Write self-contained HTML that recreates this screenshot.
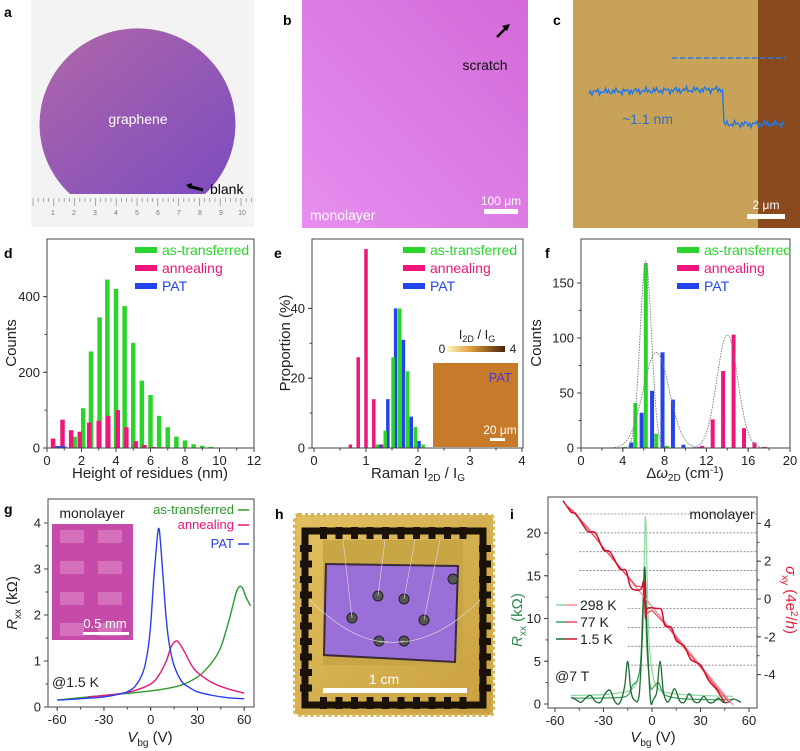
<!DOCTYPE html>
<html><head><meta charset="utf-8">
<style>
html,body{margin:0;padding:0;background:#fff;}
svg{display:block;font-family:"Liberation Sans",Arial,sans-serif;}
</style></head>
<body>
<svg id="fig" width="800" height="751" viewBox="0 0 800 751" xmlns="http://www.w3.org/2000/svg">
<defs>
<linearGradient id="waferG" x1="0" y1="0" x2="1" y2="1"><stop offset="0" stop-color="#b067a8"/><stop offset="1" stop-color="#7c4cc0"/></linearGradient>
<linearGradient id="bG" x1="0" y1="1" x2="1" y2="0"><stop offset="0" stop-color="#e68ff0"/><stop offset="1" stop-color="#d36ad8"/></linearGradient>
<linearGradient id="cbar" x1="0" x2="1"><stop offset="0" stop-color="#fff6c0"/><stop offset="0.4" stop-color="#e0a040"/><stop offset="1" stop-color="#4a2208"/></linearGradient>
<linearGradient id="goldG" x1="0" y1="0" x2="1" y2="1"><stop offset="0" stop-color="#e2c060"/><stop offset="1" stop-color="#c9a040"/></linearGradient>
</defs>

<!-- panel a -->
<g>
<rect x="31" y="0" width="223" height="227" fill="#f3f3f3"/>
<path d="M70 194 A98 96 0 1 1 205 194 Z" fill="url(#waferG)"/>
<g stroke="#888" stroke-width="0.7" id="ruler"></g>
<text x="138" y="124" fill="#fff" font-size="14" text-anchor="middle">graphene</text>
<path d="M188 186 L203 190" stroke="#000" stroke-width="3"/>
<path d="M186 185 l6 -2 l-1 6 z" fill="#000"/>
<text x="210" y="194" font-size="14">blank</text>
</g>
<text x="4" y="17" font-size="14" font-weight="bold">a</text>

<!-- panel b -->
<g>
<rect x="302" y="0" width="226" height="228" fill="url(#bG)"/>
<path d="M497 37 L507 27" stroke="#000" stroke-width="2.5"/>
<path d="M510 24 l-8 2 l5 5 z" fill="#000"/>
<text x="485" y="70" font-size="14" fill="#111" text-anchor="middle">scratch</text>
<text x="310" y="220" font-size="14" fill="#fff">monolayer</text>
<text x="501" y="205" font-size="12" fill="#fff" text-anchor="middle">100 μm</text>
<rect x="484" y="209" width="34" height="5" fill="#fff"/>
</g>
<text x="283" y="25" font-size="14" font-weight="bold">b</text>

<!-- panel c -->
<g>
<rect x="573" y="0" width="227" height="228" fill="#c9a259"/>
<rect x="758" y="0" width="42" height="228" fill="#8b4a1d"/>
<line x1="672" y1="58" x2="786" y2="58" stroke="#2a7ae0" stroke-width="1.5" stroke-dasharray="5,3"/>
<polyline id="profile" fill="none" stroke="#1f78e6" stroke-width="1.4"/>
<text x="622" y="124" font-size="14" fill="#2a6fd0">~1.1 nm</text>
<text x="766" y="209" font-size="12" fill="#fff" text-anchor="middle">2 μm</text>
<rect x="747" y="214" width="38" height="5" fill="#fff"/>
</g>
<text x="553" y="25" font-size="14" font-weight="bold">c</text>

<text x="4" y="258" font-size="14" font-weight="bold">d</text>
<text x="274" y="258" font-size="14" font-weight="bold">e</text>
<text x="545" y="258" font-size="14" font-weight="bold">f</text>
<text x="4" y="514" font-size="14" font-weight="bold">g</text>
<text x="275" y="519" font-size="14" font-weight="bold">h</text>
<text x="510" y="519" font-size="14" font-weight="bold">i</text>

<!-- panel h photo -->
<g>
<rect x="295" y="515" width="198" height="200" rx="4" fill="url(#goldG)" stroke="#d8b450" stroke-width="4" stroke-dasharray="3,3"/>
<path d="M305 531 L483 531 L483 705 L305 705 Z" fill="none" stroke="#1a1208" stroke-width="7"/>
<g id="pads"></g>
<rect x="323" y="540" width="140" height="125" fill="#c8a545"/>
<path d="M326 564 L458 566 L455 662 L324 655 Z" fill="#9a70d8" stroke="#3a2a3a" stroke-width="2"/>
<g fill="#555" stroke="#222">
<circle cx="378" cy="596" r="5"/><circle cx="404" cy="599" r="5"/><circle cx="424" cy="620" r="5"/><circle cx="352" cy="618" r="5"/><circle cx="379" cy="641" r="5"/><circle cx="404" cy="641" r="5"/><circle cx="453" cy="579" r="5"/>
</g>
<g stroke="#ddd" stroke-width="0.6" fill="none">
<path d="M378 596 L385 540"/><path d="M404 599 L415 540"/><path d="M424 620 L440 540"/><path d="M352 618 L343 540"/><path d="M310 600 Q360 650 404 641"/><path d="M480 600 Q430 650 379 641"/>
</g>
<rect x="323" y="688" width="144" height="5" fill="#fff"/>
<text x="384" y="684" font-size="14" fill="#fff" text-anchor="middle">1 cm</text>
</g>

<g id="charts"></g>
</svg>

<script>
// ---------- data ----------
// panel d: height of residues histogram
const dGreenX = [1.6,2.1,2.55,3.05,3.5,4.0,4.5,5.0,5.5,6.0,6.5,7.0,7.5,8.0,8.5,9.0,9.5];
const dGreenV = [30,105,255,345,445,420,375,278,178,140,85,55,30,20,10,6,3];
const dPinkX = [0.35,0.9,1.4,1.9,2.45,3.0,3.55,4.1,4.6,5.15,5.65,6.2,6.7];
const dPinkV = [25,75,47,43,67,72,85,100,55,18,8,3,2];
const dBlueX = [0.6,0.8,1.0];
const dBlueV = [5,5,4];
const dXTicks = [0,2,4,6,8,10,12];
const dYTicks = [0,200,400];
// panel e: Raman ratio
const ePinkX = [0.7,0.85,1.0,1.15,1.3];
const ePinkV = [1,26,57,14,1];
const eBlueX = [1.27,1.42,1.57,1.72,1.87,2.02];
const eBlueV = [1,14,40,31,9,2];
const eGreenX = [1.22,1.37,1.52,1.65,1.8,1.95,2.1];
const eGreenV = [1,5,26,40,22,6,1];
const eXTicks = [0,1,2,3,4];
const eYTicks = [0,20,40];
// panel f: 2D width
const fGreenX = [4.1,5.2,6.2,7.2,8.2];
const fGreenV = [1,41,168,13,2];
const fBlueX = [4.8,5.8,6.8,7.8,8.8,9.8,11.4];
const fBlueV = [5,32,52,87,44,3,1];
const fPinkX = [11.6,12.6,13.6,14.6,15.6,16.6,17.6];
const fPinkV = [2,26,70,103,18,5,1];
const fFitCenter = [6.2,7.2,14.0];
const fFitAmp = [170,87,103];
const fFitSigma = [0.55,1.25,1.0];
const fXTicks = [0,4,8,12,16,20];
const fYTicks = [0,50,100,150];
// panel g: Rxx vs Vbg
const gBlueX = [-60,-45,-30,-20,-15,-10,-5,-2,0,2,4,5,6,8,10,12,15,20,25,30,40,50,60];
const gBlueV = [0.15,0.18,0.22,0.28,0.33,0.45,0.75,1.2,1.8,2.8,3.6,3.88,3.7,2.8,1.9,1.35,0.9,0.55,0.42,0.33,0.25,0.2,0.18];
const gPinkX = [-40,-30,-20,-10,0,5,10,13,16,18,22,26,30,40,50,60];
const gPinkV = [0.22,0.25,0.29,0.36,0.5,0.68,1.0,1.3,1.43,1.4,1.18,0.92,0.75,0.52,0.39,0.3];
const gGreenX = [-60,-40,-20,0,10,20,30,35,40,45,50,53,55,57,59,61,64];
const gGreenV = [0.15,0.22,0.28,0.35,0.4,0.48,0.65,0.8,1.0,1.3,1.85,2.25,2.5,2.62,2.58,2.4,2.2];
const gXTicks = [-60,-30,0,30,60];
const gYTicks = [0,1,2,3,4];
// panel i: quantum Hall
const iR298X = [-50,-30,-20,-12,-8,-6,-5,-4,-3,-2,0,3,10,30,50];
const iR298V = [1.0,1.1,1.3,1.8,3.5,8,15,22,15,8,4,2,1.3,1.0,0.9];
const iR77X = [-50,-30,-16,-12,-9,-7,-6,-5,-4.5,-4,-3,-1,1,4,7,12,20,35,50];
const iR77V = [0.7,0.7,0.9,2.2,2.8,5,10,14,16,12,6,2,2,2.5,1.2,0.8,0.6,0.5,0.5];
const iR15X = [-50,-47,-44,-41,-38,-35,-32,-29,-26,-23,-20,-17,-15,-13,-11,-8,-6,-4.5,-3,-1,1,3,5,7,9,11,14,17,20,23,26,29,32,35,38,41,44,47,50,53,55];
const iR15V = [0.8,0.5,0.2,0.7,1.0,0.3,0.2,1.2,1.6,0.3,0.1,2.0,5.0,1.5,0.5,1.0,8,16,8,0.5,0.6,1.5,5.0,1.5,0.3,0.5,1.8,0.4,0.2,1.2,0.3,0.2,0.9,0.2,0.2,0.7,0.2,0.2,0.6,0.4,0.2];
const iS298X = [-50,50];
const iS298V = [4.8,-5.6];
const iS77X = [-52,-40,-30,-20,-10,-5,-4,0,10,20,30,40,48];
const iS77V = [4.9,3.8,2.7,1.7,0.7,0.6,-0.8,-0.6,-1.5,-2.6,-3.6,-4.7,-5.5];
const iS15X = [-55,-50,-47,-40,-35,-30,-26,-20,-16,-13,-7,-5,-4,-3,3,6,8,12,15,20,24,30,35,40,45];
const iS15V = [5.2,4.6,4.5,3.6,3.5,2.6,2.5,1.6,1.5,0.6,0.5,0.9,-1.0,-0.5,-0.5,-0.6,-1.4,-1.5,-2.2,-2.5,-3.2,-3.5,-4.3,-4.8,-5.5];
const iPlateaus = [4.5,3.5,2.5,1.5,0.5,-0.5,-1.5,-2.5,-3.5];
const iXTicks = [-60,-30,0,30,60];
const iLTicks = [0,5,10,15,20];
const iRTicks = [-4,-2,0,2,4];

// ---------- helpers ----------
const NS = 'http://www.w3.org/2000/svg';
const root = document.getElementById('charts');
function el(tag, parent, name, inter) {
  const e = document.createElementNS(NS, tag);
  
  
  (parent || root).appendChild(e);
  return e;
}
function set(e, o) { for (const k in o) e.setAttribute(k, o[k]); return e; }
function txt(parent, name, x, y, s, size, anchor, fill) {
  const t = el('text', parent, name, false);
  set(t, {x: x, y: y, 'font-size': size || 13, 'text-anchor': anchor || 'middle', fill: fill || '#222'});
  t.textContent = s;
  return t;
}
function frame(g, name, x0, y0, x1, y1) {
  const r = el('rect', g, name, false);
  set(r, {x: x0, y: y0, width: x1 - x0, height: y1 - y0, fill: 'none', stroke: '#444', 'stroke-width': 1});
}
function xTicks(g, ticks, X, yb, minorStep, x0, x1, color) {
  ticks.forEach(v => {
    const l = el('line', g, 'x-tick', false);
    set(l, {x1: X(v), x2: X(v), y1: yb, y2: yb + 4, stroke: '#444'});
    txt(g, 'x-tick-label', X(v), yb + 17, String(v), 13);
  });
  if (minorStep) for (let v = ticks[0]; v <= ticks[ticks.length - 1] + 1e-9; v += minorStep) {
    const l = el('line', g, 'x-minor-tick', false);
    set(l, {x1: X(v), x2: X(v), y1: yb, y2: yb + 2.5, stroke: '#444'});
  }
}
function yTicks(g, ticks, Y, xl, minorStep, side, color) {
  const d = side === 'right' ? 1 : -1;
  ticks.forEach(v => {
    const l = el('line', g, 'y-tick', false);
    set(l, {x1: xl, x2: xl + 4 * d, y1: Y(v), y2: Y(v), stroke: '#444'});
    txt(g, 'y-tick-label', xl + 7 * d, Y(v) + 4.5, String(v), 13, side === 'right' ? 'start' : 'end');
  });
  if (minorStep) for (let v = ticks[0]; v <= ticks[ticks.length - 1] + 1e-9; v += minorStep) {
    const l = el('line', g, 'y-minor-tick', false);
    set(l, {x1: xl, x2: xl + 2.5 * d, y1: Y(v), y2: Y(v), stroke: '#444'});
  }
}
function bars(g, name, xs, vs, X, Y, w, color) {
  xs.forEach((x, i) => {
    const r = el('rect', g, name, false);
    const y = Y(vs[i]);
    set(r, {x: X(x) - w / 2, y: y, width: w, height: Y(0) - y, fill: color});
  });
}
function line(g, name, xs, vs, X, Y, color, w) {
  const p = el('polyline', g, name, false);
  set(p, {points: xs.map((x, i) => X(x).toFixed(1) + ',' + Y(vs[i]).toFixed(1)).join(' '), fill: 'none', stroke: color, 'stroke-width': w || 1.5, 'stroke-linejoin': 'round'});
  return p;
}
function smooth(g, name, xs, vs, X, Y, color, w) {
  const pts = xs.map((x, i) => [X(x), Y(vs[i])]);
  let d = 'M' + pts[0][0] + ' ' + pts[0][1];
  for (let i = 0; i < pts.length - 1; i++) {
    const p0 = pts[i - 1] || pts[i], p1 = pts[i], p2 = pts[i + 1], p3 = pts[i + 2] || p2;
    const c1x = p1[0] + (p2[0] - p0[0]) / 6, c1y = p1[1] + (p2[1] - p0[1]) / 6;
    const c2x = p2[0] - (p3[0] - p1[0]) / 6, c2y = p2[1] - (p3[1] - p1[1]) / 6;
    d += ' C' + c1x.toFixed(1) + ' ' + c1y.toFixed(1) + ' ' + c2x.toFixed(1) + ' ' + c2y.toFixed(1) + ' ' + p2[0].toFixed(1) + ' ' + p2[1].toFixed(1);
  }
  const p = el('path', g, name, false);
  set(p, {d: d, fill: 'none', stroke: color, 'stroke-width': w || 1.5});
  return p;
}
function legendBar(g, name, x, y, color, label) {
  const r = el('rect', g, name + '-swatch', false);
  set(r, {x: x, y: y - 8, width: 22, height: 6, fill: color});
  txt(g, name, x + 27, y, label, 14, 'start', color);
}
const GREEN = '#2ad42a', PINK = '#f0157a', BLUE = '#2244ee';

// ---------- panel d ----------
(function () {
  const g = el('g', root, 'panel-d-residue-histogram', false);
  const X = v => 47 + v * 17.25, Y = v => 448 - v * 0.3785;
  bars(g, 'bar-as-transferred', dGreenX, dGreenV, X, Y, 4.5, GREEN);
  bars(g, 'bar-annealing', dPinkX, dPinkV, X, Y, 4.5, PINK);
  bars(g, 'bar-pat', dBlueX, dBlueV, X, Y, 4.5, BLUE);
  frame(g, 'plot-frame', 47, 239, 254, 448);
  xTicks(g, dXTicks, X, 448, 1);
  yTicks(g, dYTicks, Y, 47, 100);
  txt(g, 'x-axis-title', 150, 478, 'Height of residues (nm)', 15);
  const t = txt(g, 'y-axis-title', 0, 0, 'Counts', 15);
  set(t, {transform: 'translate(16,343) rotate(-90)'});
  legendBar(g, 'legend-as-transferred', 135, 255, GREEN, 'as-transferred');
  legendBar(g, 'legend-annealing', 135, 273, PINK, 'annealing');
  legendBar(g, 'legend-pat', 135, 291, BLUE, 'PAT');
})();

// ---------- panel e ----------
(function () {
  const g = el('g', root, 'panel-e-raman-histogram', false);
  const X = v => 314 + v * 52, Y = v => 448 - v * 3.49;
  bars(g, 'bar-annealing', ePinkX, ePinkV, X, Y, 3.5, PINK);
  bars(g, 'bar-pat', eBlueX, eBlueV, X, Y, 3.5, BLUE);
  bars(g, 'bar-as-transferred', eGreenX, eGreenV, X, Y, 3.5, GREEN);
  frame(g, 'plot-frame', 312, 239, 523, 448);
  xTicks(g, eXTicks, X, 448, 0.5);
  yTicks(g, eYTicks, Y, 312, 10);
  const xt = txt(g, 'x-axis-title', 418, 478, '', 15);
  xt.innerHTML = 'Raman I<tspan font-size="10" dy="3">2D</tspan><tspan dy="-3"> / I</tspan><tspan font-size="10" dy="3">G</tspan>';
  const t = txt(g, 'y-axis-title', 0, 0, 'Proportion (%)', 15);
  set(t, {transform: 'translate(290,343) rotate(-90)'});
  legendBar(g, 'legend-as-transferred', 403, 255, GREEN, 'as-transferred');
  legendBar(g, 'legend-annealing', 403, 273, PINK, 'annealing');
  legendBar(g, 'legend-pat', 403, 291, BLUE, 'PAT');
  const sq = el('rect', g, 'raman-map-inset', false);
  set(sq, {x: 433, y: 363, width: 85, height: 84, fill: '#c77a2a'});
  txt(g, 'inset-pat-label', 512, 382, 'PAT', 13, 'end', '#4a3ad0');
  txt(g, 'inset-scale-label', 500, 434, '20 μm', 12, 'middle', '#fff');
  const sb = el('rect', g, 'inset-scale-bar', false);
  set(sb, {x: 490, y: 438, width: 15, height: 3, fill: '#fff'});
  const cb = el('rect', g, 'colorbar', false);
  set(cb, {x: 447, y: 346, width: 58, height: 6, fill: 'url(#cbar)'});
  txt(g, 'colorbar-min', 442, 353, '0', 12);
  txt(g, 'colorbar-max', 513, 353, '4', 12);
  const ct = txt(g, 'colorbar-title', 477, 339, '', 13);
  ct.innerHTML = 'I<tspan font-size="9" dy="3">2D</tspan><tspan dy="-3"> / I</tspan><tspan font-size="9" dy="3">G</tspan>';
})();

// ---------- panel f ----------
(function () {
  const g = el('g', root, 'panel-f-width-histogram', false);
  const X = v => 581 + v * 10.45, Y = v => 448 - v * 1.1;
  bars(g, 'bar-as-transferred', fGreenX, fGreenV, X, Y, 4, GREEN);
  bars(g, 'bar-pat', fBlueX, fBlueV, X, Y, 4, BLUE);
  bars(g, 'bar-annealing', fPinkX, fPinkV, X, Y, 4, PINK);
  fFitCenter.forEach((c, k) => {
    const xs = [], vs = [];
    for (let v = c - 4 * fFitSigma[k]; v <= c + 4 * fFitSigma[k]; v += 0.1) { xs.push(v); vs.push(fFitAmp[k] * Math.exp(-0.5 * Math.pow((v - c) / fFitSigma[k], 2))); }
    const p = line(g, 'gaussian-fit', xs, vs, X, Y, '#777', 0.9);
    p.setAttribute('stroke-dasharray', '1.5,1.2');
  });
  frame(g, 'plot-frame', 581, 239, 790, 448);
  xTicks(g, fXTicks, X, 448, 2);
  yTicks(g, fYTicks, Y, 581, 25);
  const xt = txt(g, 'x-axis-title', 685, 478, '', 15);
  xt.innerHTML = 'Δ<tspan font-style="italic">ω</tspan><tspan font-size="10" dy="3">2D</tspan><tspan dy="-3"> (cm</tspan><tspan font-size="10" dy="-5">-1</tspan><tspan dy="5">)</tspan>';
  const t = txt(g, 'y-axis-title', 0, 0, 'Counts', 15);
  set(t, {transform: 'translate(541,343) rotate(-90)'});
  legendBar(g, 'legend-as-transferred', 677, 255, GREEN, 'as-transferred');
  legendBar(g, 'legend-annealing', 677, 273, PINK, 'annealing');
  legendBar(g, 'legend-pat', 677, 291, BLUE, 'PAT');
})();

// ---------- panel g ----------
(function () {
  const g = el('g', root, 'panel-g-rxx', false);
  const X = v => 150.7 + v * 1.5583, Y = v => 707 - v * 46;
  const ins = el('rect', g, 'device-inset', false);
  set(ins, {x: 52, y: 524, width: 81, height: 116, fill: '#c64aa8'});
  for (let r = 0; r < 4; r++) for (let c = 0; c < 2; c++) {
    const b = el('rect', g, 'inset-electrode', false);
    set(b, {x: 60 + c * 38, y: 530 + r * 31, width: 24, height: 13, fill: '#d470bc'});
  }
  txt(g, 'inset-scale-label', 105, 628, '0.5 mm', 13, 'middle', '#fff');
  const sb = el('rect', g, 'inset-scale-bar', false);
  set(sb, {x: 83, y: 632, width: 46, height: 3, fill: '#fff'});
  smooth(g, 'curve-as-transferred', gGreenX, gGreenV, X, Y, '#2a9a2a', 1.4);
  smooth(g, 'curve-annealing', gPinkX, gPinkV, X, Y, '#e8157a', 1.4);
  smooth(g, 'curve-pat', gBlueX, gBlueV, X, Y, '#2a3ef0', 1.4);
  frame(g, 'plot-frame', 48, 499, 254, 707);
  xTicks(g, gXTicks, X, 707, 15);
  yTicks(g, gYTicks, Y, 48, 0.5);
  txt(g, 'monolayer-label', 92, 518, 'monolayer', 14, 'middle', '#222');
  txt(g, 'temperature-label', 52, 687, '@1.5 K', 14, 'start', '#222');
  const xt = txt(g, 'x-axis-title', 150, 742, '', 15);
  xt.innerHTML = '<tspan font-style="italic">V</tspan><tspan font-size="10" dy="4">bg</tspan><tspan dy="-4"> (V)</tspan>';
  const t = txt(g, 'y-axis-title', 0, 0, '', 15);
  t.innerHTML = '<tspan font-style="italic">R</tspan><tspan font-size="10" dy="4">xx</tspan><tspan dy="-4"> (kΩ)</tspan>';
  set(t, {transform: 'translate(17,603) rotate(-90)'});
  [['as-transferred', '#2a9a2a', 514], ['annealing', '#e8157a', 529], ['PAT', '#2a3ef0', 548]].forEach(a => {
    txt(g, 'legend-' + a[0], 234, a[2], a[0], 13, 'end', a[1]);
    const l = el('line', g, 'legend-line-' + a[0], false);
    set(l, {x1: 238, x2: 249, y1: a[2] - 4, y2: a[2] - 4, stroke: a[1], 'stroke-width': 1.5});
  });
})();

// ---------- panel i ----------
(function () {
  const g = el('g', root, 'panel-i-quantum-hall', false);
  const X = v => 652 + v * 1.617, YL = v => 704 - v * 8.55, YR = v => 599 - v * 18.9;
  iPlateaus.forEach(p => {
    const l = el('line', g, 'plateau-guide', false);
    set(l, {x1: p > 0 ? X(-45) : X(-15), x2: 757, y1: YR(p), y2: YR(p), stroke: '#666', 'stroke-width': 0.7, 'stroke-dasharray': '2,1.5'});
  });
  smooth(g, 'rxx-298k', iR298X, iR298V, X, YL, '#8fd8a0', 1.2);
  smooth(g, 'rxx-77k', iR77X, iR77V, X, YL, '#3aa055', 1.2);
  smooth(g, 'rxx-1p5k', iR15X, iR15V, X, YL, '#1e6a35', 1.3);
  line(g, 'sxy-298k', iS298X, iS298V, X, YR, '#f28a9a', 1.3);
  line(g, 'sxy-77k', iS77X, iS77V, X, YR, '#f04a60', 1.3);
  smooth(g, 'sxy-1p5k', iS15X, iS15V, X, YR, '#d0102a', 1.5);
  frame(g, 'plot-frame', 548, 497, 757, 708);
  xTicks(g, iXTicks, X, 708, 15);
  yTicks(g, iLTicks, YL, 548, 2.5);
  yTicks(g, iRTicks, YR, 757, 1, 'right');
  txt(g, 'monolayer-label', 722, 519, 'monolayer', 14, 'middle', '#222');
  txt(g, 'field-label', 555, 681, '@7 T', 14, 'start', '#222');
  [['298 K', '#8fd8a0', '#f28a9a', 610], ['77 K', '#3aa055', '#f04a60', 627], ['1.5 K', '#1e6a35', '#d0102a', 644]].forEach(a => {
    const l1 = el('line', g, 'legend-line-rxx', false);
    set(l1, {x1: 556, x2: 566, y1: a[3] - 5, y2: a[3] - 5, stroke: a[1], 'stroke-width': 1.5});
    const l2 = el('line', g, 'legend-line-sxy', false);
    set(l2, {x1: 566, x2: 577, y1: a[3] - 5, y2: a[3] - 5, stroke: a[2], 'stroke-width': 1.5});
    txt(g, 'legend-' + a[0].replace(/\W/g, ''), 580, a[3], a[0], 14, 'start', '#222');
  });
  const xt = txt(g, 'x-axis-title', 653, 742, '', 15);
  xt.innerHTML = '<tspan font-style="italic">V</tspan><tspan font-size="10" dy="4">bg</tspan><tspan dy="-4"> (V)</tspan>';
  const tl = txt(g, 'y-axis-title-left', 0, 0, '', 15, 'middle', '#2a8a4a');
  tl.innerHTML = '<tspan font-style="italic">R</tspan><tspan font-size="10" dy="4">xx</tspan><tspan dy="-4"> (kΩ)</tspan>';
  set(tl, {transform: 'translate(522,620) rotate(-90)'});
  const tr = txt(g, 'y-axis-title-right', 0, 0, '', 15, 'middle', '#e0203a');
  tr.innerHTML = '<tspan font-style="italic">σ</tspan><tspan font-size="10" dy="4">xy</tspan><tspan dy="-4"> (4e</tspan><tspan font-size="10" dy="-5">2</tspan><tspan dy="5">/</tspan><tspan font-style="italic">h</tspan>)';
  set(tr, {transform: 'translate(786,600) rotate(90)'});
})();

// ---------- decorations: ruler, AFM profile, chip pads ----------
(function () {
  const r = document.getElementById('ruler');
  for (let i = 0; i <= 42; i++) {
    const x = 33 + i * 5.2;
    const l = document.createElementNS(NS, 'line');
    
    
    set(l, {x1: x, x2: x, y1: 198, y2: i % 4 === 0 ? 206 : 202});
    r.appendChild(l);
  }
  ['1','2','3','4','5','6','7','8','9','10'].forEach((s, i) => {
    const t = document.createElementNS(NS, 'text');
    
    
    set(t, {x: 53 + i * 21, y: 215, 'font-size': 7, fill: '#777', stroke: 'none', 'text-anchor': 'middle'});
    t.textContent = s;
    r.appendChild(t);
  });
  const pts = [];
  for (let x = 589; x <= 785; x += 1.5) {
    const j = Math.sin(x * 1.7) * 2.2 + Math.sin(x * 0.63) * 1.5;
    const base = x < 724 ? 92 - (x - 589) * 0.02 : 124;
    pts.push(x.toFixed(1) + ',' + (base + j).toFixed(1));
  }
  document.getElementById('profile').setAttribute('points', pts.join(' '));
  const pads = document.getElementById('pads');
  for (let i = 0; i < 10; i++) {
    const b = document.createElementNS(NS, 'rect');
    
    
    set(b, {x: 320 + i * 15.5, y: 697, width: 7, height: 12, fill: '#1a1208'});
    pads.appendChild(b);
    const b2 = document.createElementNS(NS, 'rect');
    
    
    set(b2, {x: 320 + i * 15.5, y: 527, width: 7, height: 12, fill: '#1a1208'});
    pads.appendChild(b2);
  }
  for (let i = 0; i < 10; i++) {
    [300, 479].forEach(x => {
      const b = document.createElementNS(NS, 'rect');
      
      
      set(b, {x: x, y: 545 + i * 15.5, width: 12, height: 7, fill: '#1a1208'});
      pads.appendChild(b);
    });
  }
})();
</script>
</body></html>
